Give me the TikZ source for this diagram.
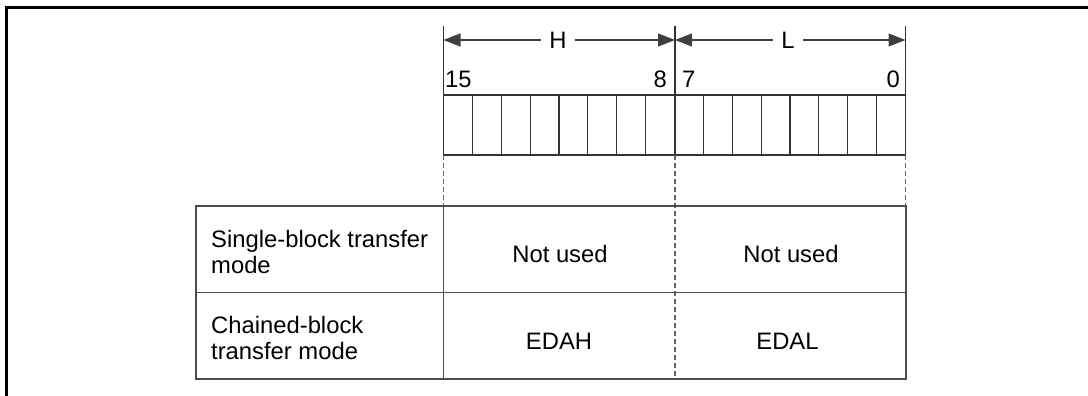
\documentclass[tikz,border=0pt]{standalone}
\usepackage{fontspec}
\setmainfont{Liberation Sans}
\usetikzlibrary{arrows.meta}
\begin{document}
\begin{tikzpicture}[x=1pt,y=-1pt,
  lbl/.style={font=\fontsize{23.8}{26}\selectfont, inner sep=0pt},
  reg/.style={draw=black!80, line width=1.2pt},
  tbl/.style={draw=black!70, line width=1.4pt},
  dsh/.style={draw=black!60, line width=1.2pt, dash pattern=on 5pt off 3pt},
  dim/.style={draw=black!75, line width=1.2pt, -{Triangle[length=17pt,width=13pt]}},
]
\useasboundingbox (0,0) rectangle (1088,396);
% frame
\draw[line width=3.2pt] (6.5,396) -- (6.5,7.3) -- (1088,7.3);
% coordinates
\coordinate (xl) at (443.5,26);
\coordinate (xm) at (675,26);
\coordinate (xr) at (905.5,26);
% dimension labels
\node[lbl, inner xsep=8pt] (H) at (558,40) {H};
\node[lbl, inner xsep=8pt] (L) at (788,40) {L};
\coordinate (al) at (443.5,40);
\coordinate (am) at (675,40);
\coordinate (ar) at (905.5,40);
\draw[dim] (H.west) -- (al);
\draw[dim] (H.east) -- (am);
\draw[dim] (L.west) -- (am);
\draw[dim] (L.east) -- (ar);
% bit numbers
\node[lbl, anchor=base west] (b15) at (445,88) {15};
\node[lbl, anchor=base east] (b8) at (667,88) {8};
\node[lbl, anchor=base west] (b7) at (682,88) {7};
\node[lbl, anchor=base east] (b0) at (900,88) {0};
% register
\draw[reg] (443.5,95) rectangle (905.5,155);
\foreach \i in {1,...,15} {
  \draw[reg] ({443.5+\i*28.875},95) -- ({443.5+\i*28.875},155);
}
\draw[reg] (xl) -- (443.5,155);
\draw[reg] (xm) -- (675,155);
\draw[reg] (xr) -- (905.5,155);
% dashed guides
\draw[dsh] (443.5,155) -- (443.5,206);
\draw[dsh] (905.5,155) -- (905.5,206);
\draw[dsh] (675,155) -- (675,379);
% table
\draw[tbl] (196,206) rectangle (906,379);
\draw[tbl] (196,292.7) -- (906,292.7);
\draw[tbl] (443.5,206) -- (443.5,379);
% texts
\node[lbl, anchor=base west, align=left] (m1) at (211,273) {Single-block transfer\\mode};
\node[lbl, anchor=base west, align=left] (m2) at (211,359.5) {Chained-block\\transfer mode};
\node[lbl, anchor=base] (h1) at (560,262.7) {Not used};
\node[lbl, anchor=base] (l1) at (791,262.7) {Not used};
\node[lbl, anchor=base] (h2) at (559,349.3) {EDAH};
\node[lbl, anchor=base] (l2) at (787.5,349.3) {EDAL};
\end{tikzpicture}
\end{document}
